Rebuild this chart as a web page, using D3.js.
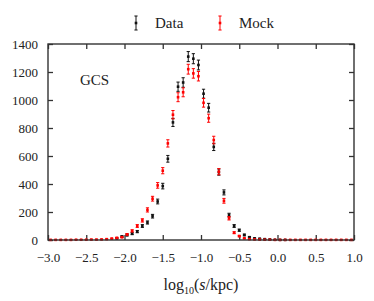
<!DOCTYPE html>
<html>
<head>
<meta charset="utf-8">
<script src="https://cdn.jsdelivr.net/npm/d3@7"></script>
<style>
  html, body { margin:0; padding:0; background:#fff; }
  svg text { font-family:"Liberation Serif", "DejaVu Serif", serif !important; fill:#222; }
</style>
</head>
<body>
<svg id="chart" width="374" height="301"></svg>
<script>
/* ---------- data : 60 bins of width 1/15 dex from -3 to 1 ---------- */
const binEdges = { lo:-3, hi:1, n:60 };

const dataCounts = [
  0,0,0,0,0,0,0,0,0,0,
  0,0,0,12,25,35,45,60,100,125,
  170,275,385,580,840,1095,1125,1310,1295,1250,
  1045,945,665,485,340,178,100,70,36,20,
  12,9,6,4,2,1,1,0,0,0,
  0,0,0,0,0,0,0,0,0,0
];
const dataErr = [
  0,0,0,0,0,0,0,0,0,0,
  0,0,0,4,5,6,7,8,10,11,
  13,17,20,24,29,33,34,36,36,35,
  32,31,26,22,18,13,10,8,6,4,
  3,3,2,2,1,1,1,0,0,0,
  0,0,0,0,0,0,0,0,0,0
];
const mockCounts = [
  1,1,1,1,1,2,2,2,3,3,
  4,6,10,15,20,40,65,100,140,215,
  295,390,495,690,895,1020,1055,1220,1190,1170,
  980,870,714,488,280,155,52,28,12,6,
  4,3,2,2,1,1,1,1,1,1,
  1,1,1,1,1,1,1,1,1,1
];
const mockErr = [
  1,1,1,1,1,1,1,1,2,2,
  2,2,3,4,4,6,8,10,12,15,
  17,20,22,26,30,32,32,35,34,34,
  31,29,27,22,17,12,7,5,3,2,
  2,2,1,1,1,1,1,1,1,1,
  1,1,1,1,1,1,1,1,1,1
];

const xTicks = [-3,-2.5,-2,-1.5,-1,-0.5,0,0.5,1];
const yTicks = [0,200,400,600,800,1000,1200,1400];
const seriesNames = ["Data","Mock"];
const seriesColors = ["#111","#ff0000"];

/* ---------- layout ---------- */
const W = 374, H = 301;
const m = { top:44, right:20, bottom:61, left:48 };
const svg = d3.select("#chart");

const x = d3.scaleLinear().domain([binEdges.lo, binEdges.hi]).range([m.left, W - m.right]);
const y = d3.scaleLinear().domain([0, 1400]).range([H - m.bottom, m.top]);
const binW = (binEdges.hi - binEdges.lo) / binEdges.n;
const centers = d3.range(binEdges.n).map(i => binEdges.lo + (i + 0.5) * binW);

const fmtX = d => d3.format(".1f")(d).replace("-", "\u2212");
const tickLen = 5;

/* axes, ticks pointing inward */
const gx = svg.append("g").attr("transform", `translate(0,${H - m.bottom})`)
  .call(d3.axisBottom(x).tickValues(xTicks).tickFormat(fmtX).tickSizeInner(-tickLen).tickSizeOuter(0).tickPadding(13));
const gxt = svg.append("g").attr("transform", `translate(0,${m.top})`)
  .call(d3.axisTop(x).tickValues(xTicks).tickFormat("").tickSizeInner(-tickLen).tickSizeOuter(0));
const gy = svg.append("g").attr("transform", `translate(${m.left},0)`)
  .call(d3.axisLeft(y).tickValues(yTicks).tickFormat(d3.format("d")).tickSizeInner(-tickLen).tickSizeOuter(0).tickPadding(10));
const gyr = svg.append("g").attr("transform", `translate(${W - m.right},0)`)
  .call(d3.axisRight(y).tickValues(yTicks).tickFormat("").tickSizeInner(-tickLen).tickSizeOuter(0));

[gx, gxt, gy, gyr].forEach(g => {
  g.attr("font-family", null);
  g.select(".domain").remove();
  g.selectAll(".tick line").attr("stroke", "#333").attr("stroke-width", 1.3);
  g.selectAll("text").attr("font-size", 13).attr("fill", "#222");
});

/* ---------- points with error bars ---------- */
function drawSeries(counts, errs, color, skipZero) {
  const g = svg.append("g");
  const pts = counts.map((v, i) => ({ x: centers[i], v, e: errs[i] }))
    .filter(p => !(skipZero && p.v === 0));
  const cap = 1.6;
  pts.forEach(p => {
    const cx = x(p.x), lo = y(p.v - p.e), hi = y(p.v + p.e);
    if (p.e > 0) {
      g.append("line").attr("x1", cx).attr("x2", cx).attr("y1", lo).attr("y2", hi)
        .attr("stroke", color).attr("stroke-width", 1);
      [lo, hi].forEach(yy => g.append("line")
        .attr("x1", cx - cap).attr("x2", cx + cap).attr("y1", yy).attr("y2", yy)
        .attr("stroke", color).attr("stroke-width", 1));
    }
    g.append("rect").attr("x", cx - 1.3).attr("y", y(p.v) - 1.3)
      .attr("width", 2.6).attr("height", 2.6).attr("fill", color);
  });
}
drawSeries(dataCounts, dataErr, seriesColors[0], true);
drawSeries(mockCounts, mockErr, seriesColors[1], false);

/* frame */
svg.append("rect").attr("x", m.left).attr("y", m.top)
  .attr("width", W - m.left - m.right).attr("height", H - m.top - m.bottom)
  .attr("fill", "none").attr("stroke", "#333").attr("stroke-width", 1.4);

/* ---------- legend ---------- */
const legendX = [136, 220];
seriesNames.forEach((name, i) => {
  const lx = legendX[i], ly = 23, c = seriesColors[i];
  svg.append("line").attr("x1", lx).attr("x2", lx).attr("y1", ly - 7).attr("y2", ly + 7)
    .attr("stroke", c).attr("stroke-width", 1);
  [ly - 7, ly + 7].forEach(yy => svg.append("line")
    .attr("x1", lx - 1.6).attr("x2", lx + 1.6).attr("y1", yy).attr("y2", yy)
    .attr("stroke", c).attr("stroke-width", 1));
  svg.append("rect").attr("x", lx - 1.3).attr("y", ly - 1.3).attr("width", 2.6).attr("height", 2.6).attr("fill", c);
  svg.append("text").attr("x", lx + 19).attr("y", ly + 5).attr("font-size", 15).text(name);
});

/* panel label */
svg.append("text").attr("x", 80).attr("y", 85).attr("font-size", 15).text("GCS");

/* x-axis label */
const xl = svg.append("text").attr("x", (m.left + W - m.right) / 2).attr("y", 290)
  .attr("text-anchor", "middle").attr("font-size", 16);
xl.append("tspan").text("log");
xl.append("tspan").attr("font-size", 10).attr("dy", 4).text("10");
xl.append("tspan").attr("dy", -4).text("(");
xl.append("tspan").attr("font-style", "italic").text("s");
xl.append("tspan").text("/kpc)");
</script>
</body>
</html>
